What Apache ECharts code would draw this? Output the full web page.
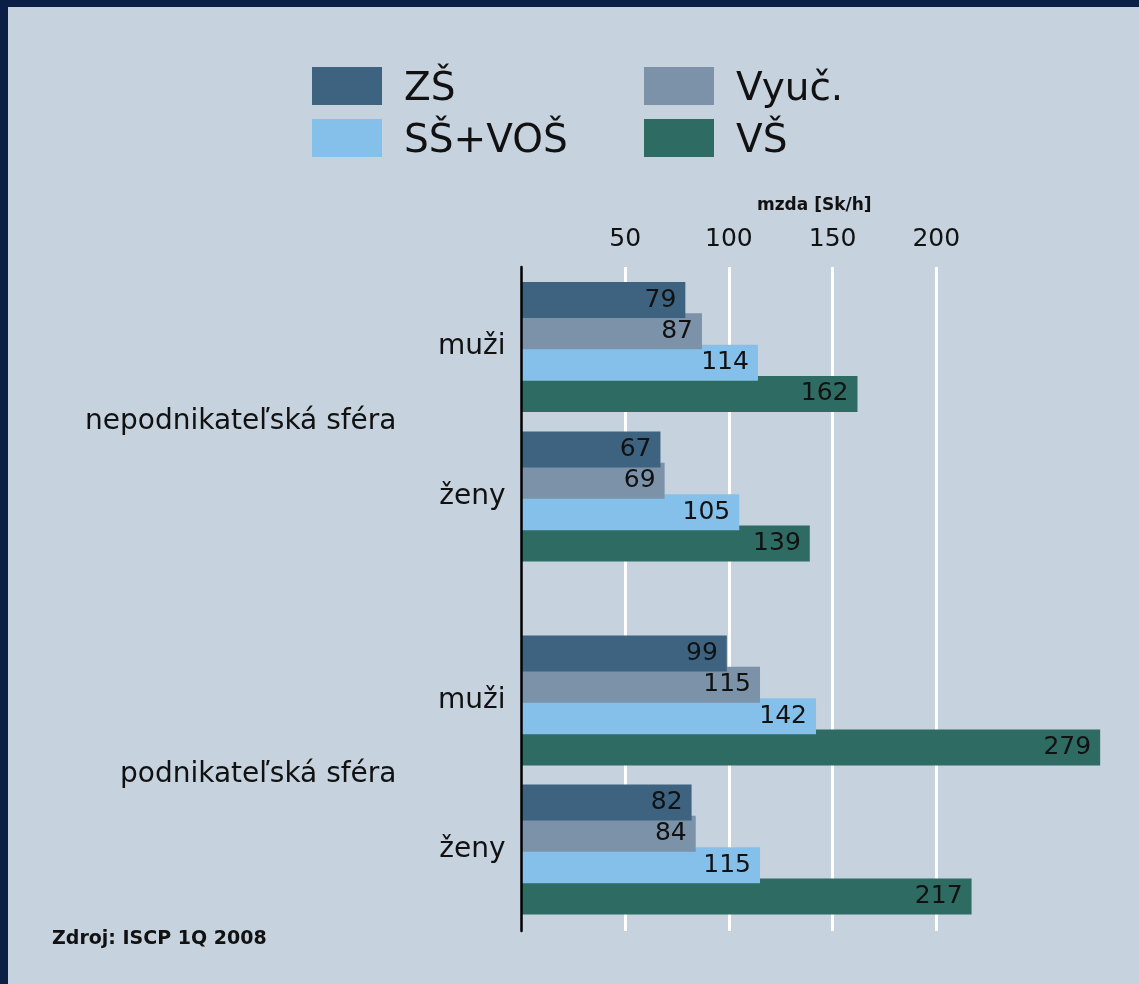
<!DOCTYPE html>
<html>
<head>
<meta charset="utf-8">
<script src="https://cdn.jsdelivr.net/npm/echarts@6/dist/echarts.min.js"></script>
<style>
  html, body { margin: 0; padding: 0; background: #c6d2de; }
  #chart { width: 1139px; height: 984px; }
  #frame {
    position: absolute; left: 0; top: 0; width: 1139px; height: 984px;
    box-sizing: border-box; border-left: 8px solid #0b1e45; border-top: 7px solid #0b1e45;
    pointer-events: none;
  }
</style>
</head>
<body>
<div id="chart"></div>
<div id="frame"></div>
<script>
// data
const genders = ['muži', 'ženy']
const sectors = ['nepodnikateľská sféra', 'podnikateľská sféra']
const levels = ['ZŠ', 'Vyuč.', 'SŠ+VOŠ', 'VŠ']
const levelColors = ['#3d6380', '#7b92a9', '#84c0ea', '#2e6b62']

// hourly wage by education level, [muži, ženy]
const zsNonBusiness = [79, 67]
const vyucNonBusiness = [87, 69]
const ssNonBusiness = [114, 105]
const vsNonBusiness = [162, 139]

const zsBusiness = [99, 82]
const vyucBusiness = [115, 84]
const ssBusiness = [142, 115]
const vsBusiness = [279, 217]

const axisMax = 250
const axisStep = 50
const barMax = 280

const FONT = 'DejaVu Sans'
const chart = echarts.init(document.getElementById('chart'))

const left = 521.5
const pxPerUnit = 2.074
const axisRight = 1139 - left - axisMax * pxPerUnit
const barRight = 1139 - left - barMax * pxPerUnit

const nonBusiness = [zsNonBusiness, vyucNonBusiness, ssNonBusiness, vsNonBusiness]
const business = [zsBusiness, vyucBusiness, ssBusiness, vsBusiness]

const makeSeries = (sets, axisIdx) =>
  sets.map((values, i) => ({
    name: levels[i],
    type: 'bar',
    xAxisIndex: axisIdx,
    yAxisIndex: axisIdx * 2 - 1,
    data: values,
    barWidth: 36,
    barGap: '-13%',
    z: 6 - i,
    itemStyle: { color: levelColors[i] },
    label: {
      show: true,
      position: 'insideRight',
      distance: 9,
      color: '#111',
      fontFamily: FONT,
      fontSize: 25
    }
  }))

const hiddenX = idx => ({
  type: 'value', gridIndex: idx, min: 0, max: barMax,
  axisLine: { show: false }, axisTick: { show: false },
  axisLabel: { show: false }, splitLine: { show: false }
})

const genderAxis = idx => ({
  type: 'category', gridIndex: idx, data: genders, inverse: true,
  axisLine: { show: false }, axisTick: { show: false },
  axisLabel: { color: '#111', fontFamily: FONT, fontSize: 28, margin: 16 }
})

const sectorAxis = (idx, name) => ({
  type: 'category', gridIndex: idx, data: [name], position: 'left',
  axisLine: { show: false }, axisTick: { show: false },
  axisLabel: { color: '#111', fontFamily: FONT, fontSize: 28, margin: 125 }
})

const legendItem = (name, x, y) => ({
  data: [name], left: x, top: y, orient: 'horizontal',
  itemWidth: 70, itemHeight: 38, icon: 'rect', padding: 0,
  selectedMode: false,
  formatter: '{t|{name}}',
  textStyle: {
    color: '#111', fontFamily: FONT, fontSize: 39, padding: [0, 0, 0, 17],
    rich: {
      t: { color: '#111', fontFamily: FONT, fontSize: 39, padding: [8, 0, 0, 0] }
    }
  }
})

const option = {
  backgroundColor: '#c6d2de',
  animation: false,
  title: [
    {
      text: 'mzda [Sk/h]', left: 757, top: 197, padding: 0,
      textStyle: { color: '#111', fontFamily: FONT, fontSize: 17, fontWeight: 'bold' }
    },
    {
      text: 'Zdroj: ISCP 1Q 2008', left: 52, top: 930, padding: 0,
      textStyle: { color: '#111', fontFamily: FONT, fontSize: 19, fontWeight: 'bold' }
    }
  ],
  legend: [
    legendItem(levels[0], 312, 67),
    legendItem(levels[1], 644, 67),
    legendItem(levels[2], 312, 119),
    legendItem(levels[3], 644, 119)
  ],
  grid: [
    { left: left, right: axisRight, top: 267, bottom: 53 },
    { left: left, right: barRight, top: 272.25, height: 299 },
    { left: left, right: barRight, top: 626, height: 298 }
  ],
  xAxis: [
    {
      type: 'value', gridIndex: 0, position: 'top',
      min: 0, max: axisMax, interval: axisStep,
      axisLine: { show: false }, axisTick: { show: false },
      axisLabel: {
        color: '#111', fontFamily: FONT, fontSize: 25, margin: 15,
        showMinLabel: false, showMaxLabel: false
      },
      splitLine: {
        show: true, showMinLine: false, showMaxLine: false,
        lineStyle: { color: '#ffffff', width: 3 }
      }
    },
    hiddenX(1),
    hiddenX(2)
  ],
  yAxis: [
    {
      type: 'value', gridIndex: 0, min: 0, max: 1, z: 10,
      axisLine: { show: true, lineStyle: { color: '#000', width: 2.5 } },
      axisTick: { show: false }, axisLabel: { show: false }, splitLine: { show: false }
    },
    genderAxis(1),
    sectorAxis(1, sectors[0]),
    genderAxis(2),
    sectorAxis(2, sectors[1])
  ],
  series: [...makeSeries(nonBusiness, 1), ...makeSeries(business, 2)]
}

chart.setOption(option)
</script>
</body>
</html>
